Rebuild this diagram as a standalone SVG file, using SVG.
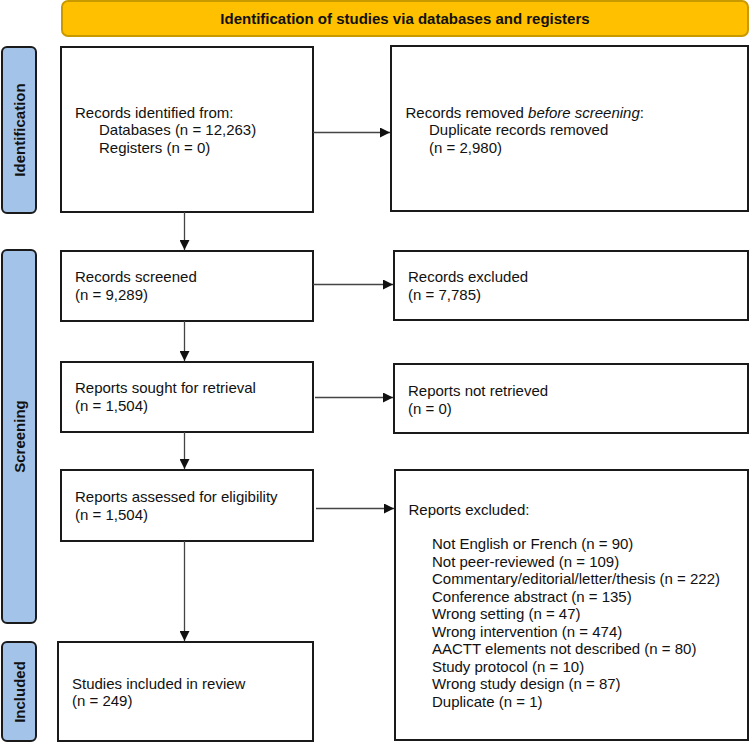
<svg xmlns="http://www.w3.org/2000/svg" width="750" height="743" viewBox="0 0 750 743">
<defs>
<style>
.box{fill:#fff;stroke:#1a1a1a;stroke-width:2}
.tab{fill:#a3c4e8;stroke:#1a1a1a;stroke-width:2}
.hdr{fill:#ffc000;stroke:#c99a00;stroke-width:2}
.t{font-family:"Liberation Sans",Arial,sans-serif;font-size:15px;fill:#111}
.b{font-family:"Liberation Sans",Arial,sans-serif;font-size:15px;font-weight:bold;fill:#111}
.c{stroke:#444;stroke-width:1.3;fill:none;marker-end:url(#ah)}
</style>
<marker id="ah" markerUnits="userSpaceOnUse" markerWidth="10" markerHeight="10" refX="10" refY="5" orient="auto">
<path d="M0,0 L10,5 L0,10 z" fill="#111"/>
</marker>
</defs>
<rect width="750" height="743" fill="#fff"/>
<g id="header">
<rect class="hdr" x="62" y="1" width="686" height="35" rx="6"/>
<text class="b" x="405" y="24" text-anchor="middle">Identification of studies via databases and registers</text>
</g>
<g id="tab-identification">
<rect class="tab" x="2" y="47" width="34" height="166" rx="5"/>
<text class="b" transform="translate(24.5,130) rotate(-90)" text-anchor="middle">Identification</text>
</g>
<g id="tab-screening">
<rect class="tab" x="2" y="250" width="34" height="373" rx="5"/>
<text class="b" transform="translate(24.5,436.5) rotate(-90)" text-anchor="middle">Screening</text>
</g>
<g id="tab-included">
<rect class="tab" x="2" y="642" width="34" height="99" rx="5"/>
<text class="b" transform="translate(24.5,692) rotate(-90)" text-anchor="middle">Included</text>
</g>
<g id="records-identified">
<rect class="box" x="61" y="47" width="252" height="165"/>
<text class="t" x="75" y="117.5">Records identified from:</text>
<text class="t" x="99" y="135">Databases (n = 12,263)</text>
<text class="t" x="99" y="152.5">Registers (n = 0)</text>
</g>
<g id="records-removed">
<rect class="box" x="391" y="46" width="357" height="165"/>
<text class="t" x="405.5" y="117.5">Records removed <tspan font-style="italic">before screening</tspan>:</text>
<text class="t" x="429" y="135">Duplicate records removed</text>
<text class="t" x="429" y="152.5">(n = 2,980)</text>
</g>
<g id="records-screened">
<rect class="box" x="61" y="251" width="252" height="70"/>
<text class="t" x="75" y="282">Records screened</text>
<text class="t" x="75" y="299.5">(n = 9,289)</text>
</g>
<g id="records-excluded">
<rect class="box" x="394" y="251" width="354" height="69"/>
<text class="t" x="408" y="282">Records excluded</text>
<text class="t" x="408" y="299.5">(n = 7,785)</text>
</g>
<g id="reports-sought">
<rect class="box" x="61" y="362" width="252" height="70"/>
<text class="t" x="75" y="393">Reports sought for retrieval</text>
<text class="t" x="75" y="410.5">(n = 1,504)</text>
</g>
<g id="reports-not-retrieved">
<rect class="box" x="394" y="364" width="354" height="69"/>
<text class="t" x="408" y="396">Reports not retrieved</text>
<text class="t" x="408" y="413.5">(n = 0)</text>
</g>
<g id="reports-assessed">
<rect class="box" x="61" y="470" width="252" height="71"/>
<text class="t" x="75" y="502">Reports assessed for eligibility</text>
<text class="t" x="75" y="519.5">(n = 1,504)</text>
</g>
<g id="reports-excluded">
<rect class="box" x="395" y="470" width="353" height="270"/>
<text class="t" x="408.5" y="515">Reports excluded:</text>
<text class="t" x="432" y="549">Not English or French (n = 90)</text>
<text class="t" x="432" y="566.5">Not peer-reviewed (n = 109)</text>
<text class="t" x="432" y="584">Commentary/editorial/letter/thesis (n = 222)</text>
<text class="t" x="432" y="601.5">Conference abstract (n = 135)</text>
<text class="t" x="432" y="619">Wrong setting (n = 47)</text>
<text class="t" x="432" y="636.5">Wrong intervention (n = 474)</text>
<text class="t" x="432" y="654">AACTT elements not described (n = 80)</text>
<text class="t" x="432" y="671.5">Study protocol (n = 10)</text>
<text class="t" x="432" y="689">Wrong study design (n = 87)</text>
<text class="t" x="432" y="706.5">Duplicate (n = 1)</text>
</g>
<g id="studies-included">
<rect class="box" x="58" y="642" width="255" height="99"/>
<text class="t" x="72" y="688.5">Studies included in review</text>
<text class="t" x="72" y="706">(n = 249)</text>
</g>
<g id="connectors">
<line class="c" x1="313" y1="132.5" x2="390" y2="132.5"/>
<line class="c" x1="184.5" y1="212" x2="184.5" y2="250"/>
<line class="c" x1="313" y1="284.5" x2="393" y2="284.5"/>
<line class="c" x1="184.5" y1="321" x2="184.5" y2="361"/>
<line class="c" x1="315" y1="397.5" x2="393" y2="397.5"/>
<line class="c" x1="184.5" y1="432" x2="184.5" y2="469"/>
<line class="c" x1="316" y1="508.5" x2="394" y2="508.5"/>
<line class="c" x1="184.5" y1="541" x2="184.5" y2="641"/>
</g>
</svg>
